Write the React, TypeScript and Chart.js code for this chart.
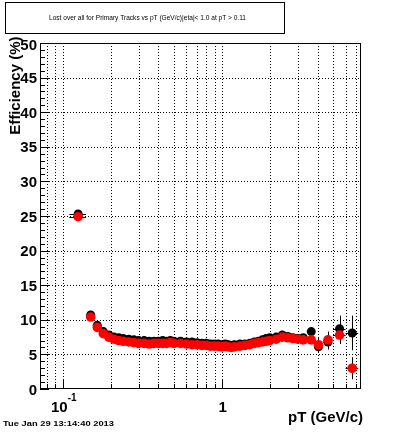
import React, { useEffect, useRef } from "react";
import { Chart, registerables } from "chart.js";

Chart.register(...registerables);

const TITLE = "Lost over all for Primary Tracks vs pT (GeV/c)|eta|< 1.0 at pT > 0.11";
const DATE_TEXT = "Tue Jan 29 13:14:40 2013";
const X_TITLE = "pT (GeV/c)";
const Y_TITLE = "Efficiency (%)";

const X_MIN = 0.072;
const X_MAX = 7.5;
const Y_MIN = 0;
const Y_MAX = 50;

const ptCenters = [
  0.125, 0.15, 0.165, 0.18, 0.195, 0.21, 0.225, 0.24, 0.26, 0.28,
  0.3, 0.325, 0.35, 0.375, 0.4, 0.425, 0.45, 0.475, 0.5, 0.55,
  0.6, 0.65, 0.7, 0.75, 0.8, 0.85, 0.9, 0.95, 1.0, 1.05,
  1.1, 1.15, 1.2, 1.3, 1.4, 1.5, 1.6, 1.7, 1.8, 1.9,
  2.0, 2.2, 2.4, 2.6, 2.8, 3.0, 3.25, 3.65, 4.05, 4.65, 5.5, 6.6,
];
const ptHalfWidths = [
  0.015, 0.01, 0.0075, 0.0075, 0.0075, 0.0075, 0.0075, 0.0075, 0.01, 0.01,
  0.01, 0.0125, 0.0125, 0.0125, 0.0125, 0.0125, 0.0125, 0.0125, 0.0125, 0.025,
  0.025, 0.025, 0.025, 0.025, 0.025, 0.025, 0.025, 0.025, 0.025, 0.025,
  0.025, 0.025, 0.025, 0.05, 0.05, 0.05, 0.05, 0.05, 0.05, 0.05,
  0.05, 0.1, 0.1, 0.1, 0.1, 0.1, 0.125, 0.2, 0.2, 0.3, 0.5, 0.6,
];
const effBlack = [
  25.3, 10.7, 9.2, 8.3, 7.8, 7.5, 7.4, 7.3, 7.2, 7.1,
  7.0, 7.0, 6.9, 6.9, 6.9, 7.0, 6.9, 7.0, 6.9, 6.9,
  6.8, 6.8, 6.7, 6.6, 6.6, 6.5, 6.5, 6.5, 6.4, 6.5,
  6.4, 6.3, 6.4, 6.5, 6.5, 6.6, 6.8, 6.9, 7.1, 7.3,
  7.4, 7.5, 7.8, 7.6, 7.4, 7.3, 7.4, 8.3, 6.1, 6.8, 8.7, 8.1,
];
const errBlack = [
  0.4, 0.4, 0.35, 0.3, 0.3, 0.25, 0.25, 0.25, 0.2, 0.2,
  0.2, 0.2, 0.2, 0.2, 0.2, 0.2, 0.2, 0.2, 0.2, 0.2,
  0.2, 0.2, 0.2, 0.2, 0.2, 0.2, 0.2, 0.2, 0.2, 0.2,
  0.2, 0.2, 0.2, 0.2, 0.2, 0.25, 0.25, 0.25, 0.25, 0.3,
  0.3, 0.3, 0.3, 0.35, 0.35, 0.4, 0.45, 0.6, 0.8, 1.1, 1.9, 2.5,
];
const effRed = [
  24.9, 10.4, 8.9, 8.0, 7.5, 7.2, 7.0, 6.9, 6.8, 6.7,
  6.6, 6.6, 6.5, 6.6, 6.6, 6.6, 6.6, 6.7, 6.6, 6.6,
  6.5, 6.4, 6.4, 6.3, 6.3, 6.2, 6.2, 6.2, 6.1, 6.2,
  6.1, 6.0, 6.1, 6.2, 6.3, 6.4, 6.6, 6.7, 6.8, 6.9,
  7.0, 7.2, 7.5, 7.4, 7.3, 7.2, 7.1, 7.1, 6.4, 7.1, 7.8, 3.0,
];
const errRed = [
  0.4, 0.4, 0.35, 0.3, 0.3, 0.25, 0.25, 0.25, 0.2, 0.2,
  0.2, 0.2, 0.2, 0.2, 0.2, 0.2, 0.2, 0.2, 0.2, 0.2,
  0.2, 0.2, 0.2, 0.2, 0.2, 0.2, 0.2, 0.2, 0.2, 0.2,
  0.2, 0.2, 0.2, 0.2, 0.2, 0.25, 0.25, 0.25, 0.25, 0.3,
  0.3, 0.3, 0.3, 0.35, 0.35, 0.4, 0.45, 0.6, 1.0, 1.2, 1.3, 1.6,
];

const yMajorTicks = [0, 5, 10, 15, 20, 25, 30, 35, 40, 45, 50];
const yGridTicks = [5, 10, 15, 20, 25, 30, 35, 40, 45];
const xGridTicks = [0.08, 0.09, 0.1, 0.2, 0.3, 0.4, 0.5, 0.6, 0.7, 0.8, 0.9, 1, 2, 3, 4, 5, 6, 7];
const xMajorTicks = [0.1, 1];

const FONT = '"Liberation Sans", Arial, Helvetica, sans-serif';

const errSets = [
  { err: errBlack, color: "#000000" },
  { err: errRed, color: "#000000" },
];

const rootPlugin = {
  id: "rootDecor",
  beforeDraw(chart: any) {
    const ctx = chart.ctx;
    ctx.save();
    ctx.fillStyle = "#ffffff";
    ctx.fillRect(0, 0, chart.width, chart.height);
    ctx.restore();
  },
  beforeDatasetsDraw(chart: any) {
    const { ctx, chartArea: a, scales } = chart;
    const xs = scales.x;
    const ys = scales.y;
    ctx.save();
    ctx.strokeStyle = "#000000";
    ctx.lineWidth = 1;
    ctx.setLineDash([1, 2]);
    for (const v of xGridTicks) {
      const px = Math.round(xs.getPixelForValue(v)) + 0.5;
      ctx.beginPath();
      ctx.moveTo(px, a.top);
      ctx.lineTo(px, a.bottom);
      ctx.stroke();
    }
    for (const v of yGridTicks) {
      const py = Math.round(ys.getPixelForValue(v)) + 0.5;
      ctx.beginPath();
      ctx.moveTo(a.left, py);
      ctx.lineTo(a.right, py);
      ctx.stroke();
    }
    ctx.restore();
  },
  beforeDatasetDraw(chart: any, args: any) {
    const { ctx, chartArea: a, scales } = chart;
    const xs = scales.x;
    const ys = scales.y;
    const set = errSets[args.index];
    const values = chart.data.datasets[args.index].data;
    ctx.save();
    ctx.beginPath();
    ctx.rect(a.left, a.top, a.right - a.left, a.bottom - a.top);
    ctx.clip();
    ctx.strokeStyle = set.color;
    ctx.lineWidth = 1;
    values.forEach((p: any, i: number) => {
      const cx = xs.getPixelForValue(p.x);
      const cy = ys.getPixelForValue(p.y);
      const y0 = ys.getPixelForValue(p.y - set.err[i]);
      const y1 = ys.getPixelForValue(p.y + set.err[i]);
      const x0 = xs.getPixelForValue(p.x - ptHalfWidths[i]);
      const x1 = xs.getPixelForValue(p.x + ptHalfWidths[i]);
      ctx.beginPath();
      ctx.moveTo(Math.round(cx) + 0.5, y0);
      ctx.lineTo(Math.round(cx) + 0.5, y1);
      ctx.moveTo(x0, Math.round(cy) + 0.5);
      ctx.lineTo(x1, Math.round(cy) + 0.5);
      ctx.stroke();
    });
    ctx.restore();
  },
  afterDatasetsDraw(chart: any) {
    const { ctx, chartArea: a, scales } = chart;
    const xs = scales.x;
    const ys = scales.y;
    ctx.save();
    ctx.strokeStyle = "#000000";
    ctx.fillStyle = "#000000";
    ctx.lineWidth = 1;
    ctx.setLineDash([]);
    ctx.strokeRect(a.left + 0.5, a.top + 0.5, a.right - a.left - 1, a.bottom - a.top - 1);
    for (let v = Y_MIN; v <= Y_MAX; v += 1) {
      const py = Math.round(ys.getPixelForValue(v)) + 0.5;
      const len = v % 5 === 0 ? 9 : 5;
      ctx.beginPath();
      ctx.moveTo(a.left, py);
      ctx.lineTo(a.left + len, py);
      ctx.stroke();
    }
    for (const v of xGridTicks) {
      const px = Math.round(xs.getPixelForValue(v)) + 0.5;
      const len = xMajorTicks.includes(v) ? 9 : 5;
      ctx.beginPath();
      ctx.moveTo(px, a.bottom);
      ctx.lineTo(px, a.bottom - len);
      ctx.stroke();
    }
    ctx.font = `bold 15px ${FONT}`;
    ctx.textAlign = "right";
    ctx.textBaseline = "middle";
    for (const v of yMajorTicks) {
      const py = ys.getPixelForValue(v);
      ctx.fillText(String(v), 37, py + (v === Y_MAX ? 3 : 1.5));
    }
    {
      const p01 = xs.getPixelForValue(xMajorTicks[0]);
      ctx.font = `bold 15px ${FONT}`;
      ctx.textAlign = "right";
      ctx.textBaseline = "alphabetic";
      ctx.fillText("10", p01 + 5, 412);
      ctx.font = `bold 10px ${FONT}`;
      ctx.textAlign = "left";
      ctx.fillText("-1", p01 + 5, 401);
      const p1 = xs.getPixelForValue(xMajorTicks[1]);
      ctx.font = `bold 15px ${FONT}`;
      ctx.textAlign = "center";
      ctx.fillText("1", p1 + 1, 412);
    }
    ctx.font = `bold 15px ${FONT}`;
    ctx.textAlign = "right";
    ctx.textBaseline = "alphabetic";
    ctx.fillText(X_TITLE, 363, 422);
    ctx.save();
    ctx.translate(19.5, 36.5);
    ctx.rotate(-Math.PI / 2);
    ctx.textAlign = "right";
    ctx.fillText(Y_TITLE, 0, 0);
    ctx.restore();
    ctx.fillStyle = "#ffffff";
    ctx.fillRect(5, 2, 280, 31);
    ctx.strokeStyle = "#000000";
    ctx.strokeRect(5.5, 2.5, 279, 31);
    ctx.fillStyle = "#000000";
    ctx.font = `7px ${FONT}`;
    ctx.textAlign = "left";
    ctx.textBaseline = "middle";
    {
      const w = ctx.measureText(TITLE).width;
      const sx = 197 / w;
      ctx.save();
      ctx.translate(49, 18.5);
      ctx.scale(sx, 1);
      ctx.fillText(TITLE, 0, 0);
      ctx.restore();
    }
    ctx.font = `bold 8px ${FONT}`;
    ctx.textBaseline = "alphabetic";
    {
      const w = ctx.measureText(DATE_TEXT).width;
      const sx = 111 / w;
      ctx.save();
      ctx.translate(3, 426);
      ctx.scale(sx, 1);
      ctx.fillText(DATE_TEXT, 0, 0);
      ctx.restore();
    }
    ctx.restore();
  },
};

export default function App() {
  const canvasRef = useRef<HTMLCanvasElement | null>(null);

  useEffect(() => {
    document.body.style.margin = "0";
    const canvas = canvasRef.current;
    if (!canvas) return;
    const chart = new Chart(canvas, {
      type: "scatter",
      data: {
        datasets: [
          {
            data: ptCenters.map((x, i) => ({ x, y: effBlack[i] })),
            backgroundColor: "#000000",
            borderWidth: 0,
            pointRadius: 4.5,
            pointHoverRadius: 4.5,
            order: 2,
          },
          {
            data: ptCenters.map((x, i) => ({ x, y: effRed[i] })),
            backgroundColor: "#ff0000",
            borderWidth: 0,
            pointRadius: 4.8,
            pointHoverRadius: 4.8,
            order: 1,
          },
        ],
      },
      options: {
        responsive: false,
        animation: false,
        devicePixelRatio: 1,
        events: [],
        layout: { padding: { left: 40, top: 43, right: 39, bottom: 44 } },
        scales: {
          x: { type: "logarithmic", min: X_MIN, max: X_MAX, display: false },
          y: { type: "linear", min: Y_MIN, max: Y_MAX, display: false },
        },
        plugins: {
          legend: { display: false },
          tooltip: { enabled: false },
          title: { display: false },
        },
      },
      plugins: [rootPlugin],
    } as any);
    return () => chart.destroy();
  }, []);

  return (
    <div style={{ position: "absolute", left: 0, top: 0, width: 400, height: 433 }}>
      <canvas ref={canvasRef} width={400} height={433} style={{ width: 400, height: 433 }} />
    </div>
  );
}
